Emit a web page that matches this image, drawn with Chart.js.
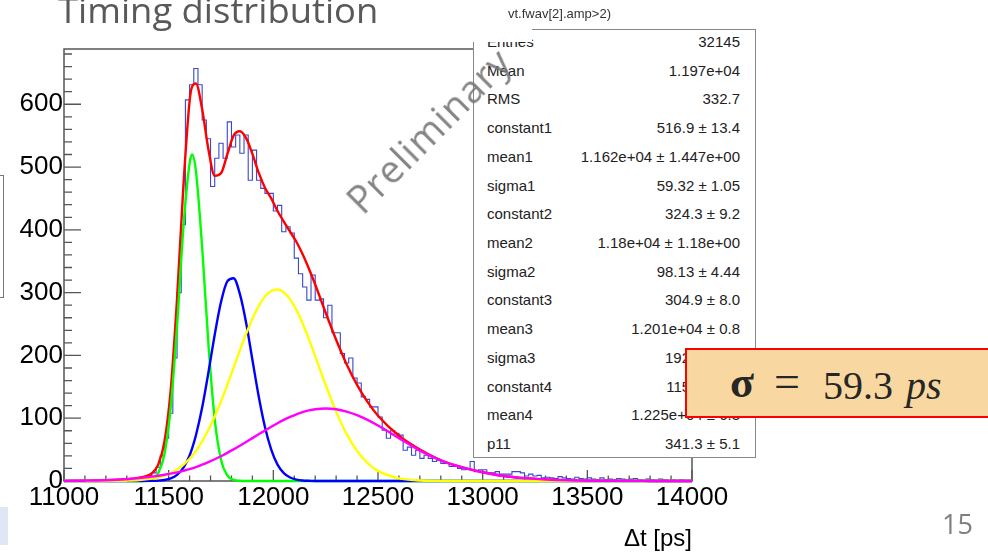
<!DOCTYPE html>
<html>
<head>
<meta charset="utf-8">
<script src="https://cdn.jsdelivr.net/npm/chart.js@4.4.1/dist/chart.umd.min.js"></script>
<style>
  body { margin: 0; background: #fff; width: 988px; height: 552px; overflow: hidden; position: relative; font-family: "Liberation Sans", Arial, sans-serif; }
  #chartCanvas { position: absolute; left: 0; top: 0; }
  .slideTitle { position: absolute; left: 58px; top: -7px; font-family: "Open Sans"; font-size: 34px; line-height: 34px; color: #595959; white-space: nowrap; transform: scaleX(1.07); transform-origin: left top; }
  .pageNum { position: absolute; left: 942px; top: 510px; font-family: "Open Sans"; font-size: 27px; line-height: 27px; color: #7f7f7f; }
  #stats { position: absolute; left: 473px; top: 29px; width: 281px; height: 427px; border: 1px solid #888; background: #fff; }
  .row { position: absolute; left: 0; width: 100%; height: 20px; line-height: 20px; font-size: 15px; color: #222; white-space: nowrap; }
  .row .k { position: absolute; left: 13px; }
  .row .v { position: absolute; right: 15px; }
  .cover { position: absolute; left: 472px; top: 20px; width: 60px; height: 22px; background: #fff; }
  .histTitle { position: absolute; left: 508px; top: 6px; font-size: 13px; color: #333; white-space: nowrap; }
  .prelim { position: absolute; left: 428px; top: 130px; transform: translate(-50%, -50%) rotate(-45deg); font-family: "Open Sans"; font-size: 38px; line-height: 38px; letter-spacing: 1px; color: rgba(120,120,120,0.9); white-space: nowrap; }
  .sigmaBox { position: absolute; left: 685px; top: 348px; width: 320px; height: 66px; background: #f8d8a0; border: 2.5px solid #ff0000; }
  .sg { position: absolute; top: 366px; font-family: "Liberation Serif", serif; font-size: 40px; line-height: 40px; color: #262626; white-space: nowrap; }
  .leftBox { position: absolute; left: -2px; top: 175px; width: 4px; height: 121px; border: 1px solid #777; }
  .leftBlue { position: absolute; left: 0; top: 507px; width: 8px; height: 38px; background: #dfe7f5; }
</style>
</head>
<body>
<canvas id="chartCanvas" width="988" height="552"></canvas>
<div class="slideTitle">Timing distribution</div>
<div class="leftBox"></div>
<div class="leftBlue"></div>
<div id="stats"></div>
<div class="cover"></div>
<div class="histTitle">vt.fwav[2].amp&gt;2)</div>
<div class="prelim">Preliminary</div>
<div class="sigmaBox"></div>
<div class="sg" style="left:730px;font-weight:bold;font-size:44px;top:363px">σ</div>
<div class="sg" style="left:774px;font-size:46px;top:362px">=</div>
<div class="sg" style="left:823px">59.3</div>
<div class="sg" style="left:906px;font-style:italic">ps</div>
<div class="pageNum">15</div>
<script>
// histogram, 20 ps bins from 11000 to 14000
const histStart = 11000;
const histWidth = 20;
const histCounts = [
  0, 0, 0, 0, 1, 0, 1, 1, 0, 1,
  1, 2, 1, 2, 3, 3, 4, 5, 6, 7,
  9, 13, 22, 40, 68, 108, 196, 300, 408, 607,
  631, 657, 631, 575, 545, 469, 514, 538, 514, 572,
  532, 551, 522, 551, 479, 527, 479, 466, 458, 458,
  430, 439, 397, 405, 395, 355, 330, 309, 288, 328,
  288, 290, 260, 280, 236, 236, 203, 188, 196, 164,
  156, 134, 130, 118, 118, 102, 81, 68, 80, 76,
  73, 49, 54, 41, 49, 36, 41, 36, 31, 33,
  28, 28, 23, 23, 20, 18, 19, 31, 15, 18,
  18, 13, 13, 15, 11, 11, 11, 15, 15, 13,
  8, 11, 8, 9, 5, 6, 5, 4, 7, 5,
  4, 3, 6, 4, 3, 5, 3, 2, 5, 2,
  3, 2, 4, 3, 2, 3, 4, 2, 1, 3,
  2, 1, 3, 2, 1, 2, 1, 2, 1, 1
];

// fit curves
const fitT = [11000, 11100, 11200, 11300, 11360, 11420, 11450, 11480, 11510, 11540, 11570, 11600, 11612,
  11630, 11660, 11690, 11720, 11750, 11780, 11810, 11840, 11870, 11900, 11930, 11960, 11990,
  12020, 12050, 12080, 12110, 12140, 12170, 12200, 12250, 12300, 12350, 12400, 12450, 12500,
  12600, 12700, 12800, 12900, 13000, 13100, 13200, 13300, 13400, 13600, 13800, 14000];
const fitTotal = [0.1, 0.4, 1.1, 2.9, 5.3, 12.6, 26, 63, 146, 290, 468, 605, 628,
  633, 592, 528, 486, 490, 520, 550, 557, 546, 521, 491, 467, 450,
  430, 413, 397, 381, 361, 338, 313, 268, 225, 186, 153, 126, 104,
  72, 50, 33, 22, 14, 8, 4.5, 2.5, 1.3, 0.4, 0.1, 0];
const fitGaus1 = [0, 0, 0, 0, 0, 2.7, 12.4, 43, 118, 247, 402, 506, 520,
  494, 372, 218, 98, 34, 9, 2, 0.3, 0, 0, 0, 0, 0,
  0, 0, 0, 0, 0, 0, 0, 0, 0, 0, 0, 0, 0,
  0, 0, 0, 0, 0, 0, 0, 0, 0, 0, 0, 0];
const fitGaus2 = [0, 0, 0, 0, 0, 0.2, 0.6, 1.6, 4.1, 9.7, 20.8, 40.6, 51.8,
  72.4, 117, 173, 233, 285, 318, 323, 298, 252, 193, 135, 86, 50,
  26, 12.6, 5.5, 2.2, 0.8, 0.3, 0, 0, 0, 0, 0, 0, 0,
  0, 0, 0, 0, 0, 0, 0, 0, 0, 0, 0, 0];
const fitGaus3 = [0, 0, 0.1, 0.5, 1.4, 3.7, 5.6, 8.5, 12.6, 18.2, 25.7, 35.4, 40,
  47.8, 63.1, 81.5, 102.8, 126.8, 152.9, 180.4, 208, 234.5, 258.5, 278.7, 293.7, 302.6,
  305, 300.4, 289.3, 272.5, 250.9, 225.9, 198.8, 152.9, 110.5, 75, 47.8, 28.6, 16.1,
  4.2, 0.9, 0.1, 0, 0, 0, 0, 0, 0, 0, 0, 0];
const fitGaus4 = [0.2, 0.5, 1.2, 2.8, 4.5, 7, 8.4, 10, 11.8, 13.8, 16.2, 18.8, 20.1,
  22.2, 25.9, 30.1, 34.6, 39.5, 44.8, 50.3, 56.1, 62.1, 68.3, 74.4, 80.5, 86.4,
  92, 97.3, 102, 106.2, 109.7, 112.4, 114.3, 115.5, 114.3, 110.6, 104.9, 97.3, 88.3,
  68.3, 48.4, 33, 22, 14, 8, 4.5, 2.5, 1.3, 0.4, 0.1, 0];

const xTickVals = [11000, 11500, 12000, 12500, 13000, 13500, 14000];
const yTickVals = [0, 100, 200, 300, 400, 500, 600];

const statRows = [
  ['Entries', '32145'],
  ['Mean', '1.197e+04'],
  ['RMS', '332.7'],
  ['constant1', '516.9 ± 13.4'],
  ['mean1', '1.162e+04 ± 1.447e+00'],
  ['sigma1', '59.32 ± 1.05'],
  ['constant2', '324.3 ± 9.2'],
  ['mean2', '1.18e+04 ± 1.18e+00'],
  ['sigma2', '98.13 ± 4.44'],
  ['constant3', '304.9 ± 8.0'],
  ['mean3', '1.201e+04 ± 0.8'],
  ['sigma3', '192.4 ± 3.2'],
  ['constant4', '115.5 ± 2.9'],
  ['mean4', '1.225e+04 ± 6.3'],
  ['p11', '341.3 ± 5.1']
];

// stats box
const stats = document.getElementById('stats');
statRows.forEach((r, i) => {
  const d = document.createElement('div');
  d.className = 'row';
  d.style.top = (42 + 28.71 * i - 30 - 10) + 'px';
  d.innerHTML = '<span class="k">' + r[0] + '</span><span class="v">' + r[1] + '</span>';
  stats.appendChild(d);
});

const histPts = histCounts.map((c, i) => ({ x: histStart + i * histWidth, y: c }));
histPts.push({ x: histStart + histCounts.length * histWidth, y: histCounts[histCounts.length - 1] });

function curve(ys) {
  return fitT.map((t, i) => ({ x: t, y: ys[i] }));
}

function fitLine(label, ys, color, order) {
  return {
    label: label,
    data: curve(ys),
    borderColor: color,
    borderWidth: 2.4,
    pointRadius: 0,
    fill: false,
    cubicInterpolationMode: 'monotone',
    clip: false,
    order: order
  };
}

// ROOT style frame with inward ticks
const rootFrame = {
  id: 'rootFrame',
  beforeDatasetsDraw(chart) {
    const { ctx, chartArea: a, scales: { x, y } } = chart;
    ctx.save();
    ctx.strokeStyle = '#555';
    ctx.lineWidth = 1.5;
    ctx.strokeRect(a.left, a.top, a.right - a.left, a.bottom - a.top);
    ctx.lineWidth = 1.3;
    ctx.beginPath();
    for (let v = 11000; v <= 14000; v += 100) {
      const px = x.getPixelForValue(v);
      const len = v % 500 === 0 ? 11 : 5.5;
      ctx.moveTo(px, a.bottom);
      ctx.lineTo(px, a.bottom - len);
    }
    for (let v = 0; v <= 680; v += 20) {
      const py = y.getPixelForValue(v);
      const len = v % 100 === 0 ? 17 : 8;
      ctx.moveTo(a.left, py);
      ctx.lineTo(a.left + len, py);
    }
    ctx.stroke();
    ctx.restore();
  }
};

const ctx = document.getElementById('chartCanvas').getContext('2d');
new Chart(ctx, {
  type: 'line',
  data: {
    datasets: [
      fitLine('gaus4', fitGaus4, '#ff00ff', 0),
      fitLine('gaus3', fitGaus3, '#ffff00', 1),
      fitLine('gaus2', fitGaus2, '#0000ff', 2),
      fitLine('gaus1', fitGaus1, '#00ff00', 3),
      fitLine('total', fitTotal, '#ff0000', 4),
      {
        label: 'hist',
        data: histPts,
        borderColor: '#3848cc',
        borderWidth: 1.1,
        pointRadius: 0,
        fill: false,
        stepped: true,
        clip: false,
        order: 5
      }
    ]
  },
  options: {
    responsive: false,
    animation: false,
    devicePixelRatio: 1,
    layout: { padding: { left: 0, right: 296, top: 49, bottom: 0 } },
    plugins: { legend: { display: false }, tooltip: { enabled: false } },
    scales: {
      x: {
        type: 'linear',
        min: 11000,
        max: 14000,
        afterBuildTicks: (s) => { s.ticks = xTickVals.map(v => ({ value: v })); },
        afterFit: (s) => { s.height = 71; },
        grid: { display: false, drawTicks: false },
        border: { display: false },
        ticks: { font: { family: 'Liberation Sans', size: 26 }, color: '#000', padding: 1, maxRotation: 0, autoSkip: false, callback: (v) => String(v) },
        title: { display: true, text: 'Δt [ps]', align: 'end', color: '#000', font: { family: 'Liberation Sans', size: 24 }, padding: { top: 0, bottom: -2 } }
      },
      y: {
        type: 'linear',
        min: 0,
        max: 688,
        afterBuildTicks: (s) => { s.ticks = yTickVals.map(v => ({ value: v })); },
        afterFit: (s) => { s.width = 64; },
        grid: { display: false, drawTicks: false },
        border: { display: false },
        ticks: { font: { family: 'Liberation Sans', size: 26 }, color: '#000', padding: 1, callback: (v) => String(v) }
      }
    }
  },
  plugins: [rootFrame]
});
</script>
</body>
</html>
